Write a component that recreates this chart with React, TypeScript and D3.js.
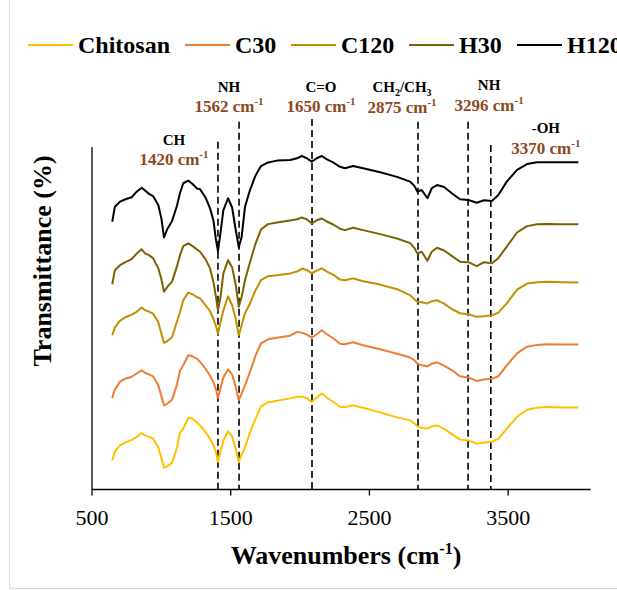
import React from 'react';
import * as d3 from 'd3';

// shared FTIR wavenumber grid (cm-1)
const wavenumbers = [
  646, 665, 702, 741, 786, 822, 858, 882, 911, 940,
  978, 1001, 1019, 1041, 1077, 1113, 1134, 1158, 1194, 1225,
  1257, 1279, 1318, 1351, 1376, 1394, 1408, 1426, 1447, 1481,
  1510, 1535, 1558, 1579, 1603, 1639, 1679, 1718, 1769, 1834,
  1928, 1978, 2014, 2050, 2084, 2120, 2156, 2194, 2238, 2288,
  2324, 2382, 2454, 2577, 2699, 2793, 2825, 2845, 2877, 2918,
  2949, 2987, 3038, 3096, 3153, 3213, 3274, 3326, 3382, 3429,
  3490, 3564, 3636, 3708, 3781, 3896, 4006,
];

const chitosan = [
  14.5, 19, 22, 23.5, 24.8, 26.2, 28.2, 27, 26.3, 25.5,
  21, 15.5, 10.9, 11.5, 13.3, 21, 28.3, 30.4, 35.8, 35.3,
  33.5, 32, 28.8, 25.3, 22, 18.5, 13.7, 19, 24.5, 29,
  26.5, 20.5, 13.7, 17.5, 21, 28.5, 35.3, 41.5, 43.5, 44.3,
  45.5, 46.3, 46.3, 45.5, 43.7, 46, 47.9, 45.8, 43.8, 41.3,
  41.2, 42, 40.8, 38.5, 36, 34.5, 33, 31.5, 30.8, 30.4,
  31.5, 32, 30.3, 27.5, 24.9, 24.5, 22.9, 23.5, 23.8, 25.3,
  30.4, 36.3, 39.8, 40.8, 41.2, 41, 41,
];

const c30 = [
  45.7, 50, 53.8, 55.3, 56.3, 57.9, 59.5, 58.3, 57.5, 56.5,
  52, 46.5, 42, 42.8, 44.8, 52.5, 59.3, 62, 67, 66.5,
  65.3, 63.7, 60.3, 56.8, 53.5, 50, 45.7, 50.5, 56, 60,
  57.5, 51.5, 44.5, 48, 52, 58.8, 66.8, 73, 75, 75.8,
  76.8, 78.7, 78.3, 77.3, 75.8, 77.5, 79.5, 77.5, 75.5, 72.8,
  72.5, 73.5, 72, 70, 67.8, 65.9, 64.5, 62.9, 62, 61.5,
  62.8, 63.5, 61.8, 59.5, 56.5, 55.9, 54.2, 54.9, 55.3, 56.5,
  62, 68, 71.3, 72.2, 72.5, 72.4, 72.4,
];

const c120 = [
  77, 81, 84.3, 86, 87.3, 88.7, 90.9, 89.5, 88.8, 87.8,
  83.5, 77.5, 73.2, 74, 76, 84, 88.5, 94.5, 98.3, 97.5,
  96, 95.4, 92, 89, 85, 81.5, 77.9, 83.5, 89.5, 96.5,
  92, 85.5, 77, 82, 88, 92.9, 99.5, 104.5, 106.5, 107,
  107.9, 108.8, 110.3, 109.5, 107.9, 109.3, 110.4, 108.8, 107.3, 104.8,
  104.5, 105.4, 104, 102.3, 100, 97, 95, 93.7, 93.5, 92.9,
  94, 94.5, 92.8, 90, 88, 87.5, 86.2, 86.5, 87, 88.3,
  92.9, 99.8, 102.8, 103.5, 103.7, 103.5, 103.4,
];

const h30 = [
  102.5, 109.5, 112, 113.5, 115, 117.8, 119.9, 117.9, 117, 115.5,
  110.4, 104.8, 98.7, 101, 103.8, 111.5, 117, 121.5, 122.9, 121.5,
  119.8, 118.7, 115, 110.4, 103.3, 96, 89.5, 95.8, 107.9, 114.5,
  111, 102.5, 91.2, 96.2, 104.5, 113.5, 122.8, 129.8, 132.5, 133.3,
  134.3, 134.9, 135.8, 134.8, 132.9, 134.4, 135.3, 133.8, 132.3, 130.2,
  129.5, 130.7, 129.5, 127.5, 125.3, 123, 120.5, 117.9, 118.7, 114.2,
  118.7, 120.7, 119.3, 116.5, 113.7, 113.5, 111.5, 113.5, 112.9, 115.5,
  121.3, 128.3, 131.5, 132.4, 132.5, 132.4, 132.4,
];

const h120 = [
  133.7, 141.2, 143.7, 144.9, 145.9, 148.7, 150.7, 149.3, 147.6, 146.5,
  142, 135, 125.9, 129.8, 134, 141.8, 147.9, 152.9, 154.2, 152.5,
  150.3, 149.9, 145.8, 140.4, 134, 124.5, 119, 128, 139.5, 145.4,
  140.8, 130, 121, 126.2, 141.2, 149.5, 156.8, 161.5, 163.3, 164.2,
  164.5, 165.4, 166.5, 165.3, 163.7, 165.4, 166.5, 164.8, 163.3, 161.1,
  160.4, 161.5, 160.4, 158.4, 156.1, 153.7, 151.5, 148.7, 149.5, 145.4,
  150.4, 152, 151, 147.8, 144.9, 144.5, 143.2, 144.4, 144, 147,
  153.7, 159.6, 162.5, 163.4, 163.4, 163.4, 163.4,
];

const seriesNames = ['Chitosan', 'C30', 'C120', 'H30', 'H120'];
const seriesValues = [chitosan, c30, c120, h30, h120];
const seriesColors = ['#FFC000', '#ED7D31', '#BF9000', '#7F6000', '#000000'];

const xTicks = [500, 1500, 2500, 3500];

// band markers
const bandGroups = ['CH', 'NH', 'C=O', 'CH2/CH3', 'NH', '-OH'];
const bandWavenumbers = ['1420', '1562', '1650', '2875', '3296', '3370'];
const bandPositions = [1408, 1560, 2086, 2850, 3211, 3375];
const bandTops = [173.6, 183.6, 185, 183.6, 183.6, 172];

const FONT = "'Liberation Serif', 'Times New Roman', serif";
const BROWN = '#8C4A1E';

function GroupLabel({ text }: { text: string }) {
  if (text === 'CH2/CH3') {
    return (
      <>
        <tspan>CH</tspan>
        <tspan dy={4} fontSize={10}>2</tspan>
        <tspan dy={-4}>/CH</tspan>
        <tspan dy={4} fontSize={10}>3</tspan>
      </>
    );
  }
  return <tspan>{text}</tspan>;
}

export default function App() {
  const width = 617;
  const height = 590;
  const left = 92, right = 590.7, top = 147, bottom = 489.5;

  const x = d3.scaleLinear().domain([500, 4095]).range([left, right]);
  const y = d3.scaleLinear().domain([0, 171]).range([bottom, top]);

  const line = d3.line<[number, number]>()
    .x(d => x(d[0]))
    .y(d => y(d[1]));

  // label offsets (px) relative to each dashed line, and baselines
  const labelLayout = [
    { dx: -44, y1: 145, y2: 165 },
    { dx: -10, y1: 92, y2: 112 },
    { dx: 9, y1: 92, y2: 112 },
    { dx: -16, y1: 92, y2: 113 },
    { dx: 21, y1: 90, y2: 111 },
    { dx: 55, y1: 133, y2: 154 },
  ];

  const legendX = [28, 185, 291, 409, 517];
  const legendY = 45;

  return (
    <svg width={width} height={height} style={{ position: 'absolute', left: 0, top: 0, background: '#fff' }}
      fontFamily={FONT}>
      <line x1={9.5} x2={9.5} y1={0} y2={588} stroke="#d9d9d9" />
      <line x1={9.5} x2={617} y1={588.5} y2={588.5} stroke="#d9d9d9" />

      {/* legend */}
      {seriesNames.map((name, i) => (
        <g key={name}>
          <line x1={legendX[i]} x2={legendX[i] + 45} y1={legendY} y2={legendY}
            stroke={seriesColors[i]} strokeWidth={2.2} />
          <text x={legendX[i] + 50} y={legendY + 8} fontSize={24} fontWeight="bold" fill="#000">
            {name}
          </text>
        </g>
      ))}

      {/* dashed band markers */}
      {bandPositions.map((b, i) => (
        <line key={'d' + i} x1={x(b)} x2={x(b)} y1={y(bandTops[i])} y2={bottom}
          stroke="#000" strokeWidth={1.6} strokeDasharray="7,4" />
      ))}

      {/* spectra */}
      {seriesValues.map((vals, i) => (
        <path key={seriesNames[i]}
          d={line(wavenumbers.map((w, j) => [w, vals[j]] as [number, number])) || ''}
          fill="none" stroke={seriesColors[i]} strokeWidth={2} strokeLinejoin="round" />
      ))}

      {/* band labels */}
      {bandGroups.map((g, i) => {
        const cx = x(bandPositions[i]) + labelLayout[i].dx;
        return (
          <g key={'l' + i}>
            <text x={cx} y={labelLayout[i].y1} textAnchor="middle" fontSize={15} fontWeight="bold" fill="#000">
              <GroupLabel text={g} />
            </text>
            <text x={cx} y={labelLayout[i].y2} textAnchor="middle" fontSize={17} fontWeight="bold" fill={BROWN}>
              <tspan>{bandWavenumbers[i]} cm</tspan>
              <tspan dy={-7} fontSize={11}>-1</tspan>
            </text>
          </g>
        );
      })}

      {/* axes */}
      <line x1={left} x2={left} y1={top} y2={bottom} stroke="#000" strokeWidth={1.3} />
      <line x1={left} x2={right} y1={bottom} y2={bottom} stroke="#000" strokeWidth={1.3} />
      {xTicks.map(t => (
        <g key={t}>
          <line x1={x(t)} x2={x(t)} y1={bottom} y2={bottom + 6} stroke="#000" strokeWidth={1.3} />
          <text x={x(t)} y={525} textAnchor="middle" fontSize={22} fill="#000">{t}</text>
        </g>
      ))}

      <text x={346} y={564} textAnchor="middle" fontSize={26} fontWeight="bold" fill="#000">
        <tspan>Wavenumbers (cm</tspan>
        <tspan dy={-10} fontSize={16}>-1</tspan>
        <tspan dy={10}>)</tspan>
      </text>
      <text transform="translate(51,261) rotate(-90)" textAnchor="middle" fontSize={26} fontWeight="bold" fill="#000">
        Transmittance (%)
      </text>
    </svg>
  );
}
